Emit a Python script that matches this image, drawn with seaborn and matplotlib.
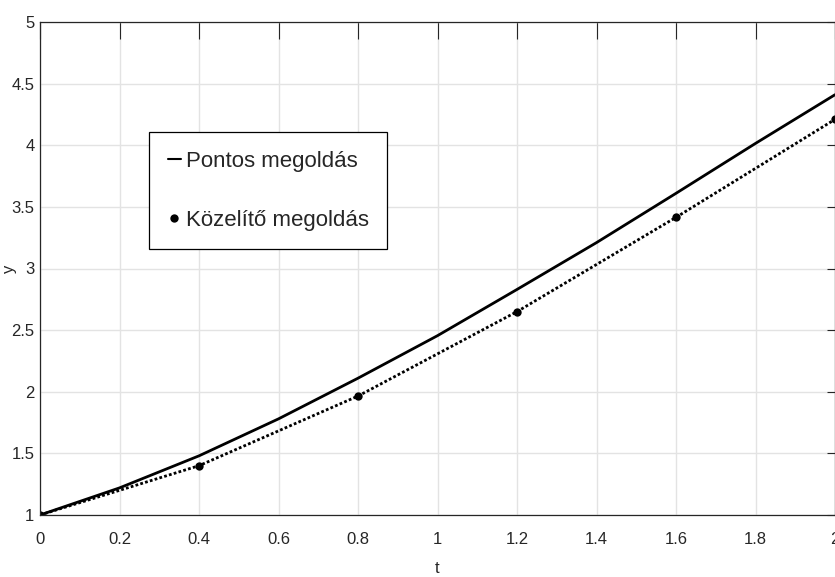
import pandas as pd
import matplotlib
matplotlib.use('Agg')
import matplotlib.pyplot as plt
import seaborn as sb
import numpy as np
from matplotlib.ticker import MultipleLocator, FormatStrFormatter

# exact solution
t_exact = [0.0, 0.2, 0.4, 0.6, 0.8, 1.0, 1.2, 1.4, 1.6, 1.8, 2.0]
y_exact = [1.0, 1.22, 1.48, 1.78, 2.11, 2.455, 2.83, 3.21, 3.61, 4.015, 4.41]

# approximate (step 0.4) solution
t_approx = [0.0, 0.4, 0.8, 1.2, 1.6, 2.0]
y_approx = [1.0, 1.40, 1.965, 2.65, 3.415, 4.21]

labels = ['Pontos megoldás', 'Közelítő megoldás']

sb.set_style('white')
plt.rcParams['font.family'] = ['Liberation Sans', 'DejaVu Sans']

df_exact = pd.DataFrame({'t': t_exact, 'y': y_exact})
df_approx = pd.DataFrame({'t': t_approx, 'y': y_approx})

fig = plt.figure(figsize=(8.35, 5.77), dpi=100)
ax = fig.add_axes([40 / 835, 1 - 515 / 577, 795 / 835, 493 / 577])

sb.lineplot(data=df_exact, x='t', y='y', ax=ax, color='black', lw=2.0,
            label=labels[0])
sb.lineplot(data=df_approx, x='t', y='y', ax=ax, color='black', lw=2.0,
            dashes=False, marker='o', markersize=6, markeredgewidth=0,
            label=labels[1])
# dotted style for the approximation
ax.lines[1].set_linestyle((0, (1.0, 0.8)))

ax.set_xlim(0, 2)
ax.set_ylim(1, 5)
ax.xaxis.set_major_locator(MultipleLocator(0.2))
ax.yaxis.set_major_locator(MultipleLocator(0.5))
ax.xaxis.set_major_formatter(FormatStrFormatter('%g'))
ax.yaxis.set_major_formatter(FormatStrFormatter('%g'))

# matlab like axes
ax.grid(True, color='#e3e3e3', lw=1.0)
ax.set_axisbelow(True)
for s in ax.spines.values():
    s.set_color('#262626')
    s.set_linewidth(0.9)
ax.tick_params(axis='x', direction='in', length=12, width=0.8, color='#262626',
               labelsize=12, labelcolor='#262626', top=True, pad=12)
ax.tick_params(axis='y', direction='in', length=6, width=0.8, color='#262626',
               labelsize=12, labelcolor='#262626', right=True, pad=4)

ax.set_xlabel('t', fontsize=12, color='#262626', labelpad=10)
ax.set_ylabel('y', fontsize=12, color='#262626')
ax.yaxis.set_label_coords(-0.029, 0.5)

leg = ax.legend(loc='upper left', bbox_to_anchor=(0.137, 0.777), borderaxespad=0,
                fontsize=16, handlelength=0.6, handletextpad=0.2,
                labelspacing=1.7, borderpad=0.85, fancybox=False,
                frameon=True, edgecolor='black', framealpha=1)
leg.get_frame().set_linewidth(0.9)
leg_lines = leg.get_lines()
leg_lines[0].set_linewidth(1.5)
leg_lines[1].set_linestyle('none')

fig.savefig('out.png', dpi=100)
